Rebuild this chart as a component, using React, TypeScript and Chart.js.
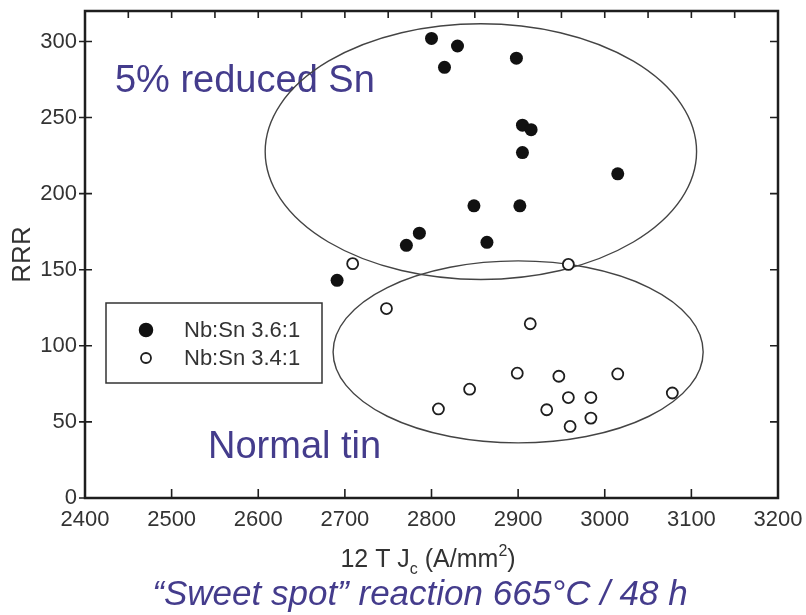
import React, { useEffect, useRef } from "react";
import { Chart, registerables } from "chart.js";

Chart.register(...registerables);

// ---- data ----
const seriesLabels = ["Nb:Sn 3.6:1", "Nb:Sn 3.4:1"];

const reducedSnJc = [2691, 2800, 2830, 2815, 2898, 2905, 2915, 2905, 3015, 2849, 2902, 2786, 2771, 2864];
const reducedSnRRR = [143, 302, 297, 283, 289, 245, 242, 227, 213, 192, 192, 174, 166, 168];

const normalSnJc = [2709, 2748, 2958, 2914, 2899, 2947, 3015, 2844, 2808, 2958, 2984, 3078, 2933, 2984, 2960];
const normalSnRRR = [154, 124.5, 153.5, 114.5, 82, 80, 81.5, 71.5, 58.5, 66, 66, 69, 58, 52.5, 47];

const xTickValues = [2400, 2500, 2600, 2700, 2800, 2900, 3000, 3100, 3200];
const yTickValues = [0, 50, 100, 150, 200, 250, 300];

// group ellipses (data units)
const ellipseCx = [2857, 2900];
const ellipseCy = [227.6, 96];
const ellipseRx = [249, 213.6];
const ellipseRy = [84, 59.8];

const groupNames = ["5% reduced Sn", "Normal tin"];
const groupNameX = [2434.6, 2542];
const groupNameY = [266.5, 26.3];

const xTitleParts = ["12 T J", "c", " (A/mm", "2", ")"];
const caption = "\u201CSweet spot\u201D reaction 665\u00B0C / 48 h";

const FONT = "'Liberation Sans', Arial, Helvetica, sans-serif";
const PURPLE = "#443c8c";
const TEXT = "#333333";

const overlayPlugin = {
  id: "overlay",
  beforeDatasetsDraw(chart: any) {
    const { ctx } = chart;
    const xs = chart.scales.x;
    const ys = chart.scales.y;
    ctx.save();
    // group names
    ctx.fillStyle = PURPLE;
    ctx.font = `38px ${FONT}`;
    ctx.textAlign = "left";
    ctx.textBaseline = "alphabetic";
    groupNames.forEach((t, i) => {
      ctx.fillText(t, xs.getPixelForValue(groupNameX[i]), ys.getPixelForValue(groupNameY[i]));
    });
    // ellipses
    ctx.strokeStyle = "#444444";
    ctx.lineWidth = 1.4;
    ellipseCx.forEach((_, i) => {
      const cx = xs.getPixelForValue(ellipseCx[i]);
      const cy = ys.getPixelForValue(ellipseCy[i]);
      const rx = Math.abs(xs.getPixelForValue(ellipseCx[i] + ellipseRx[i]) - cx);
      const ry = Math.abs(ys.getPixelForValue(ellipseCy[i] + ellipseRy[i]) - cy);
      ctx.beginPath();
      ctx.ellipse(cx, cy, rx, ry, 0, 0, Math.PI * 2);
      ctx.stroke();
    });
    ctx.restore();
  },
  afterDraw(chart: any) {
    const { ctx, chartArea: ca } = chart;
    const xs = chart.scales.x;
    const ys = chart.scales.y;
    ctx.save();
    // frame
    ctx.strokeStyle = "#1e1e1e";
    ctx.lineWidth = 2.5;
    ctx.strokeRect(ca.left, ca.top, ca.right - ca.left, ca.bottom - ca.top);
    // tick marks
    ctx.lineWidth = 1.6;
    ctx.beginPath();
    yTickValues.forEach((v) => {
      const py = ys.getPixelForValue(v);
      ctx.moveTo(ca.left - 6, py);
      ctx.lineTo(ca.left + 7, py);
      ctx.moveTo(ca.right, py);
      ctx.lineTo(ca.right - 8, py);
    });
    xTickValues.forEach((v) => {
      const px = xs.getPixelForValue(v);
      ctx.moveTo(px, ca.bottom);
      ctx.lineTo(px, ca.bottom - 9);
    });
    for (let v = xTickValues[0]; v <= xTickValues[xTickValues.length - 1]; v += 50) {
      const px = xs.getPixelForValue(v);
      ctx.moveTo(px, ca.top);
      ctx.lineTo(px, ca.top + 7);
    }
    ctx.stroke();

    // legend
    const lx = ca.left + 21;
    const ly = ca.top + 292;
    ctx.fillStyle = "#ffffff";
    ctx.fillRect(lx, ly, 216, 80);
    ctx.strokeStyle = "#333";
    ctx.lineWidth = 1.5;
    ctx.strokeRect(lx, ly, 216, 80);
    const rows = [ly + 27, ly + 55];
    chart.data.datasets.forEach((ds: any, i: number) => {
      ctx.beginPath();
      ctx.arc(lx + 40, rows[i], i === 0 ? 6.5 : 5, 0, Math.PI * 2);
      ctx.fillStyle = ds.backgroundColor;
      ctx.fill();
      ctx.strokeStyle = ds.borderColor;
      ctx.lineWidth = ds.borderWidth;
      ctx.stroke();
      ctx.fillStyle = TEXT;
      ctx.font = `22px ${FONT}`;
      ctx.textAlign = "left";
      ctx.textBaseline = "middle";
      ctx.fillText(ds.label, lx + 78, rows[i] + 1);
    });

    // x-axis title with sub/superscript
    const big = `25px ${FONT}`;
    const small = `16px ${FONT}`;
    const fonts = [big, small, big, small, big];
    const dy = [0, 7, 0, -11, 0];
    let total = 0;
    const widths = xTitleParts.map((t, i) => {
      ctx.font = fonts[i];
      const w = ctx.measureText(t).width;
      total += w;
      return w;
    });
    let tx = 428 - total / 2;
    const tb = 567;
    ctx.fillStyle = TEXT;
    ctx.textAlign = "left";
    ctx.textBaseline = "alphabetic";
    xTitleParts.forEach((t, i) => {
      ctx.font = fonts[i];
      ctx.fillText(t, tx, tb + dy[i]);
      tx += widths[i];
    });

    // caption
    ctx.fillStyle = PURPLE;
    ctx.font = `italic 35px ${FONT}`;
    ctx.textAlign = "center";
    ctx.fillText(caption, 420, 605);
    ctx.restore();
  },
};

export default function App() {
  const ref = useRef<HTMLCanvasElement | null>(null);

  useEffect(() => {
    if (!ref.current) return;
    const zeroPad = (s: any) => {
      s.paddingLeft = 0;
      s.paddingRight = 0;
      s.paddingTop = 0;
      s.paddingBottom = 0;
    };
    const chart = new Chart(ref.current, {
      type: "scatter",
      data: {
        datasets: [
          {
            label: seriesLabels[0],
            data: reducedSnJc.map((x, i) => ({ x, y: reducedSnRRR[i] })),
            backgroundColor: "#111111",
            borderColor: "#111111",
            borderWidth: 0,
            pointRadius: 6.5,
          },
          {
            label: seriesLabels[1],
            data: normalSnJc.map((x, i) => ({ x, y: normalSnRRR[i] })),
            backgroundColor: "#ffffff",
            borderColor: "#1e1e1e",
            borderWidth: 1.8,
            pointRadius: 5.5,
          },
        ],
      },
      options: {
        responsive: false,
        animation: false,
        layout: { padding: { left: 0, right: 28, top: 11, bottom: 0 } },
        plugins: {
          legend: { display: false },
          tooltip: { enabled: false },
        },
        scales: {
          x: {
            type: "linear",
            min: 2400,
            max: 3200,
            grid: { display: false, drawTicks: false },
            border: { display: false },
            ticks: {
              stepSize: 100,
              autoSkip: false,
              maxRotation: 0,
              padding: 9,
              color: TEXT,
              font: { family: FONT, size: 22 },
              callback: (v: any) => String(v),
            },
            afterFit: (s: any) => {
              s.height = 117;
              zeroPad(s);
            },
          },
          y: {
            type: "linear",
            min: 0,
            max: 320,
            grid: { display: false, drawTicks: false },
            border: { display: false },
            ticks: {
              stepSize: 50,
              includeBounds: false,
              padding: 8,
              color: TEXT,
              font: { family: FONT, size: 22 },
              callback: (v: any) => String(v),
            },
            title: {
              display: true,
              text: "RRR",
              color: TEXT,
              font: { family: FONT, size: 26 },
              padding: { top: 7, bottom: 0 },
            },
            afterFit: (s: any) => {
              s.width = 85;
              zeroPad(s);
            },
          },
        },
      },
      plugins: [overlayPlugin],
    } as any);
    return () => chart.destroy();
  }, []);

  return (
    <div style={{ position: "absolute", left: 0, top: 0, width: 806, height: 615, background: "#fff" }}>
      <canvas ref={ref} width={806} height={615} style={{ display: "block" }} />
    </div>
  );
}
